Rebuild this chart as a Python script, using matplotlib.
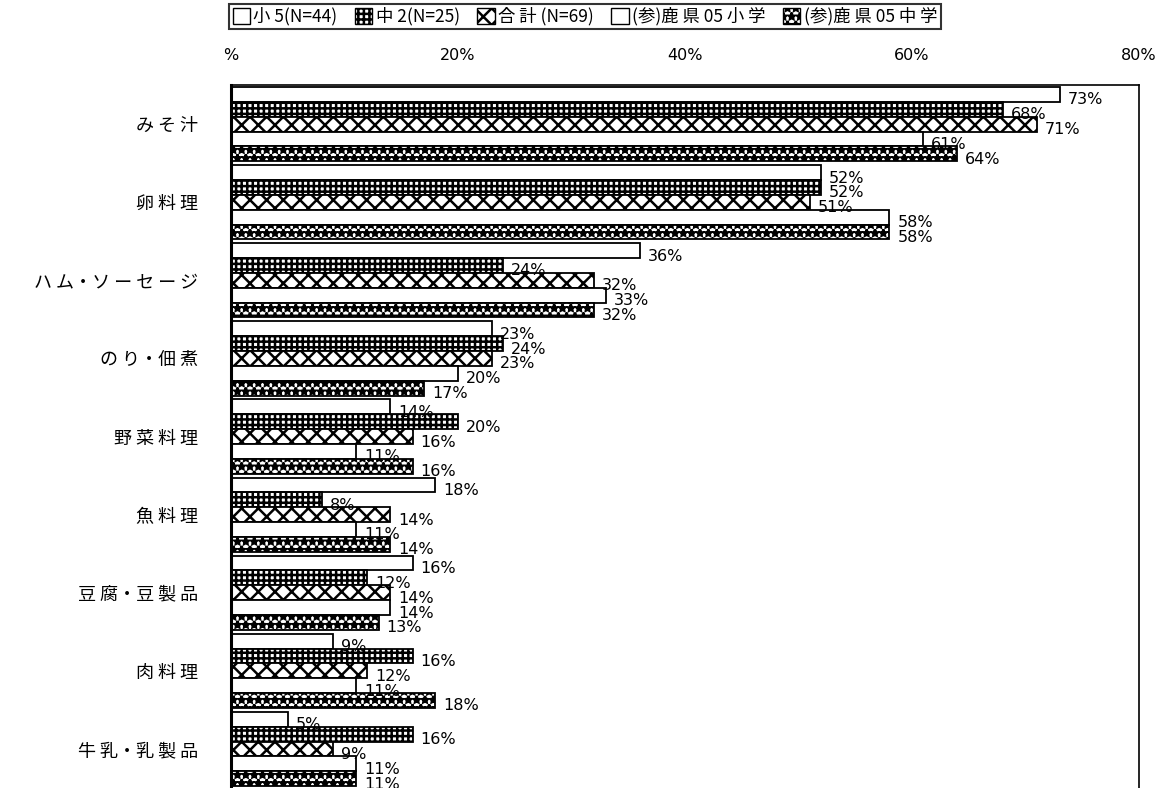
from matplotlib import pyplot as plt
from matplotlib.patches import Patch
import numpy as np

plt.rcParams['font.family'] = ['Noto Sans CJK JP', 'DejaVu Sans']
plt.rcParams['hatch.linewidth'] = 1.8

categories = ['み そ 汁', '卵 料 理', 'ハ ム・ソ ー セ ー ジ', 'の り・佃 煮', '野 菜 料 理',
              '魚 料 理', '豆 腐・豆 製 品', '肉 料 理', '牛 乳・乳 製 品']
series = ['小 5(N=44)', '中 2(N=25)', '合 計 (N=69)', '(参)鹿 県 05 小 学', '(参)鹿 県 05 中 学']
sho5 = [73, 52, 36, 23, 14, 18, 16, 9, 5]
chu2 = [68, 52, 24, 24, 20, 8, 12, 16, 16]
goukei = [71, 51, 32, 23, 16, 14, 14, 12, 9]
ken_sho = [61, 58, 33, 20, 11, 11, 14, 11, 11]
ken_chu = [64, 58, 32, 17, 16, 14, 13, 18, 11]
values = [sho5, chu2, goukei, ken_sho, ken_chu]
hatches = [None, '+++', 'xx', None, '**']
xticks = [0, 20, 40, 60, 80]
xticklabels = ['%', '20%', '40%', '60%', '80%']

fig = plt.figure(figsize=(11.63, 7.88), dpi=100)
ax = fig.add_axes([0.1986, 0.0, 0.7808, 0.892])

h = 0.19
y = np.arange(len(categories))
for j, vals in enumerate(values):
    pos = y + (j - 2) * h
    ax.barh(pos, vals, height=h, color='white', edgecolor='black',
            linewidth=1.3, hatch=hatches[j])
    for p, v in zip(pos, vals):
        ax.text(v + 0.7, p + 0.07, f'{v}%', va='center', ha='left',
                fontsize=11.5, color='black', fontfamily='DejaVu Sans')

ax.set_ylim(8.5, -0.5)
ax.set_xlim(0, 80)
ax.set_yticks(y)
ax.set_yticklabels(categories, fontsize=13)
ax.tick_params(axis='y', length=0, pad=24)
ax.xaxis.tick_top()
ax.set_xticks(xticks)
ax.set_xticklabels(xticklabels, fontsize=11.5, fontfamily='DejaVu Sans')
ax.tick_params(axis='x', length=0, pad=16)
for s in ['top', 'right']:
    ax.spines[s].set_linewidth(1.2)
ax.spines['left'].set_linewidth(2.2)
ax.spines['bottom'].set_visible(False)

handles = [Patch(facecolor='white', edgecolor='black', hatch=hatches[j], label=series[j])
           for j in range(5)]
leg = fig.legend(handles=handles, loc='upper left', bbox_to_anchor=(0.197, 0.995), ncol=5,
                 frameon=True, fancybox=False, fontsize=12.5, handlelength=1.0,
                 handleheight=1.0, handletextpad=0.2, columnspacing=1.0,
                 borderpad=0.2, borderaxespad=0)
leg.get_frame().set_edgecolor('black')
leg.get_frame().set_linewidth(1.5)

plt.savefig('out.png', dpi=100)
